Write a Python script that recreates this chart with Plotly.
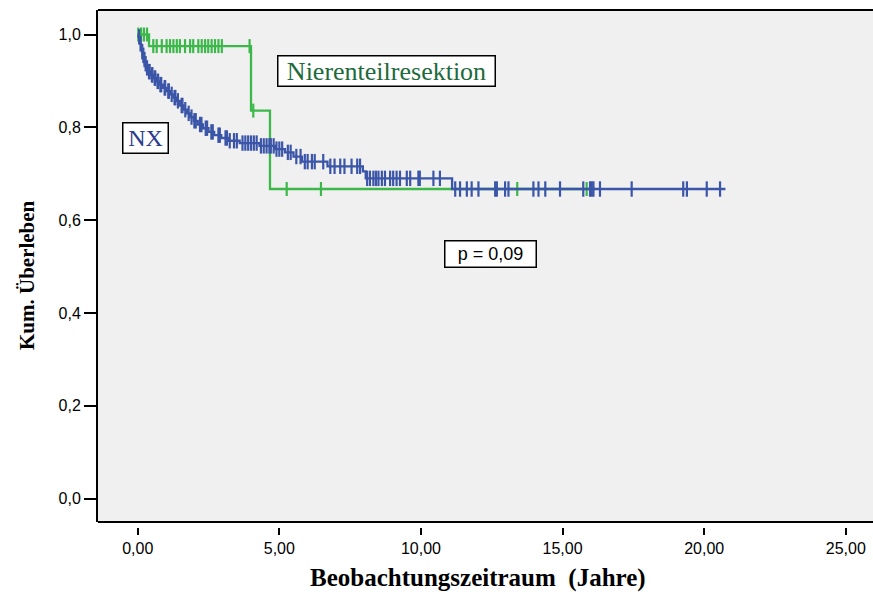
import numpy as np
import plotly.graph_objects as go

# ---- NX (Nephrektomie) : event times and survival after each step ----
nx_event_t = [0.03, 0.06, 0.09, 0.12, 0.15, 0.18, 0.21, 0.25, 0.30, 0.37, 0.45, 0.55, 0.66, 0.78,
              0.90, 1.02, 1.14, 1.26, 1.38, 1.50, 1.62, 1.74, 1.86, 1.98, 2.12, 2.30, 2.50, 2.70,
              2.95, 3.20, 3.60, 4.30, 4.85, 5.20, 5.50, 5.80, 6.70, 7.95, 8.05, 11.10]
nx_surv = [0.995, 0.988, 0.980, 0.972, 0.963, 0.955, 0.946, 0.937, 0.928, 0.920, 0.913, 0.906, 0.899, 0.892,
           0.885, 0.878, 0.871, 0.864, 0.857, 0.847, 0.838, 0.830, 0.822, 0.814, 0.806, 0.798, 0.790, 0.783,
           0.777, 0.771, 0.766, 0.760, 0.753, 0.746, 0.737, 0.726, 0.716, 0.705, 0.690, 0.667]
nx_end = 20.75
nx_censor_t = [0.05, 0.10, 0.16, 0.20, 0.24, 0.28, 0.33, 0.40, 0.42, 0.50, 0.52, 0.60, 0.62, 0.70, 0.72,
               0.80, 0.83, 0.95, 0.97, 1.08, 1.10, 1.20, 1.30, 1.33, 1.42, 1.55, 1.58, 1.68, 1.80, 1.90,
               2.00, 2.05, 2.20, 2.25, 2.40, 2.45, 2.60, 2.65, 2.85, 2.90, 3.10, 3.15, 3.25, 3.40, 3.50,
               3.70, 3.80, 3.90, 4.00, 4.10, 4.20, 4.35, 4.45, 4.55, 4.65, 4.70, 4.80, 4.90, 5.00, 5.10,
               5.30, 5.40, 5.60, 5.75, 5.90, 6.00, 6.15, 6.25, 6.55, 6.80, 6.95, 7.15, 7.30, 7.55, 7.75,
               7.85, 8.10, 8.20, 8.32, 8.41, 8.50, 8.62, 8.73, 8.91, 9.02, 9.14, 9.26, 9.50, 9.62, 9.91,
               9.96, 10.44, 10.67, 11.21, 11.38, 11.62, 11.79, 12.03, 12.62, 12.68, 12.97, 13.09, 13.97,
               14.15, 14.39, 14.91, 15.73, 15.97, 16.03, 16.09, 16.32, 17.44, 19.26, 19.39, 20.09, 20.56]

# ---- Nierenteilresektion ----
nr_event_t = [0.40, 4.00, 4.67]
nr_surv = [0.975, 0.836, 0.667]
nr_end = 16.15
nr_censor_t = [0.02, 0.12, 0.22, 0.33, 0.55, 0.67, 0.85, 1.02, 1.14, 1.26, 1.38, 1.49, 1.67, 1.85,
               1.96, 2.14, 2.26, 2.38, 2.49, 2.61, 2.73, 2.85, 2.97, 3.95, 4.08, 5.26, 6.47, 13.40, 15.85]

x_tickvals = [0, 5, 10, 15, 20, 25]
x_ticktext = ["0,00", "5,00", "10,00", "15,00", "20,00", "25,00"]
y_tickvals = [0.0, 0.2, 0.4, 0.6, 0.8, 1.0]
y_ticktext = ["0,0", "0,2", "0,4", "0,6", "0,8", "1,0"]

BLUE = "#3b55a8"
GREEN = "#3cb84a"


def km_path(ev_t, surv, end):
    xs = [0.0] + list(ev_t) + [end]
    ys = [1.0] + list(surv) + [surv[-1]]
    return xs, ys


def surv_at(ev_t, surv, t):
    idx = np.searchsorted(np.array(ev_t), np.array(t), side="right")
    s = np.array([1.0] + list(surv))
    return s[idx]


fig = go.Figure()

for ev, sv, end, cens, col, msize in [
    (nr_event_t, nr_surv, nr_end, nr_censor_t, GREEN, 10),
    (nx_event_t, nx_surv, nx_end, nx_censor_t, BLUE, 11),
]:
    xs, ys = km_path(ev, sv, end)
    fig.add_trace(go.Scatter(x=xs, y=ys, mode="lines", line=dict(color=col, width=2.3, shape="hv"),
                             showlegend=False, hoverinfo="skip"))
    fig.add_trace(go.Scatter(x=cens, y=surv_at(ev, sv, cens), mode="markers",
                             marker=dict(symbol="line-ns", size=msize, line=dict(color=col, width=2.2)),
                             showlegend=False, hoverinfo="skip"))

serif = "Liberation Serif, Times New Roman, serif"
sans = "Liberation Sans, Arial, sans-serif"

fig.update_layout(
    width=873, height=592,
    margin=dict(l=98, r=0, t=10, b=65),
    paper_bgcolor="white",
    plot_bgcolor="#f0f0f0",
    xaxis=dict(range=[-1.402, 25.96], anchor="free", position=0, showgrid=False, zeroline=False,
               showline=False, ticks="outside", ticklen=7, tickwidth=2, tickcolor="black",
               tickvals=x_tickvals, ticktext=x_ticktext,
               tickfont=dict(family=sans, size=16, color="black")),
    yaxis=dict(domain=[0.00967, 1], range=[-0.0506, 1.0528], showgrid=False, zeroline=False,
               showline=True, linewidth=2, linecolor="black",
               ticks="outside", ticklen=12, tickwidth=2, tickcolor="black",
               tickvals=y_tickvals, ticktext=y_ticktext,
               tickfont=dict(family=sans, size=16, color="black")),
    shapes=[
        dict(type="line", xref="x domain", yref="y domain", x0=0, x1=1, y0=1, y1=1,
             line=dict(color="black", width=2)),
        dict(type="line", xref="x domain", yref="y domain", x0=0, x1=1, y0=0, y1=0,
             line=dict(color="black", width=2)),
    ],
    annotations=[
        dict(text="Beobachtungszeitraum\u00a0 (Jahre)", xref="paper", yref="paper",
             x=0.490, y=-0.0986, xanchor="center", yanchor="middle", showarrow=False,
             font=dict(family=serif, size=25, color="black", weight="bold")),
        dict(text="Kum. Überleben", xref="paper", yref="paper", textangle=-90,
             x=-0.0916, y=0.4874, xanchor="center", yanchor="middle", showarrow=False,
             font=dict(family=serif, size=21, color="black", weight="bold")),
        dict(text="Nierenteilresektion", xref="x", yref="y", x=8.80, y=0.921,
             xanchor="center", yanchor="middle", showarrow=False, width=216, height=29,
             bgcolor="white", bordercolor="black", borderwidth=1.5, borderpad=0,
             font=dict(family=serif, size=26, color="#1d6a3b")),
        dict(text="NX", xref="x", yref="y", x=0.29, y=0.777,
             xanchor="center", yanchor="middle", showarrow=False, width=44, height=29,
             bgcolor="white", bordercolor="black", borderwidth=1.5, borderpad=0,
             font=dict(family=serif, size=24, color="#2b3a8c")),
        dict(text="p = 0,09", xref="x", yref="y", x=12.47, y=0.527,
             xanchor="center", yanchor="middle", showarrow=False, width=90, height=25,
             bgcolor="white", bordercolor="black", borderwidth=1.5, borderpad=0,
             font=dict(family=sans, size=18, color="black")),
    ],
)

fig.write_html("out.html")
